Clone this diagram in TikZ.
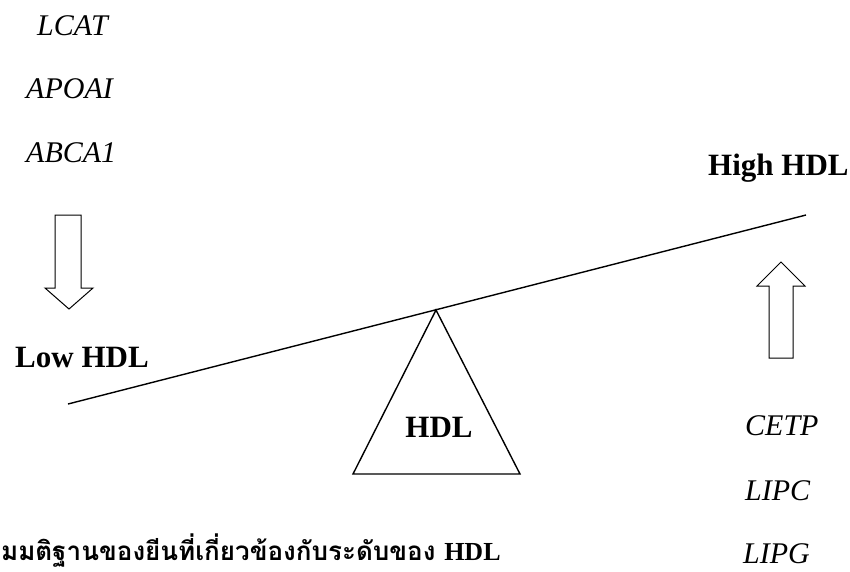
\documentclass[tikz,border=0pt]{standalone}
\usepackage{fontspec}
\setmainfont{Liberation Serif}
\newfontfamily\thaifont[Script=Thai]{Loma}
\begin{document}
\begin{tikzpicture}[x=1pt,y=-1pt,
  gene/.style={inner sep=0pt,anchor=base west,font=\fontsize{30}{32}\selectfont\itshape},
  lvl/.style={inner sep=0pt,anchor=base west,font=\fontsize{31}{33}\selectfont\bfseries},
  hollow/.style={draw=black,line width=1pt,fill=white,line join=miter},
  beam/.style={draw=black,line width=1.4pt}]
\useasboundingbox (0,0) rectangle (850,571);
% genes left
\node[gene] (lcat) at (37,35) {LCAT};
\node[gene] (apoai) at (26,98) {APOAI};
\node[gene] (abca) at (26,162) {ABCA1};
% genes right
\node[gene] (cetp) at (745,435) {CETP};
\node[gene] (lipc) at (745,500) {LIPC};
\node[gene] (lipg) at (743,563) {LIPG};
% labels
\node[lvl] (low) at (15,367) {Low HDL};
\node[lvl] (high) at (708,175) {High HDL};
\node[lvl,anchor=base] (hdl) at (439,437) {HDL};
% beam and fulcrum
\coordinate (bl) at (68,404);
\coordinate (br) at (806,215);
\coordinate (apex) at (436,310);
\coordinate (tl) at (353,474);
\coordinate (tr) at (520,474);
\draw[beam] (bl) -- (br);
\draw[beam,line join=miter] (apex) -- (tr) -- (tl) -- cycle;
% arrows
\draw[hollow] (55,215) -- (81,215) -- (81,288) -- (93,288) -- (69,309) -- (45,288) -- (55,288) -- cycle;
\draw[hollow] (769,358) -- (793,358) -- (793,286) -- (805,286) -- (781,262) -- (757,286) -- (769,286) -- cycle;
% caption
\node[inner sep=0pt,anchor=base west] (cap) at (1,560)
  {\fontsize{26}{28}\selectfont\thaifont\bfseries มมติฐานของยีนที่เกี่ยวข้องกับระดับของ {\rmfamily\bfseries HDL}};
\end{tikzpicture}
\end{document}
